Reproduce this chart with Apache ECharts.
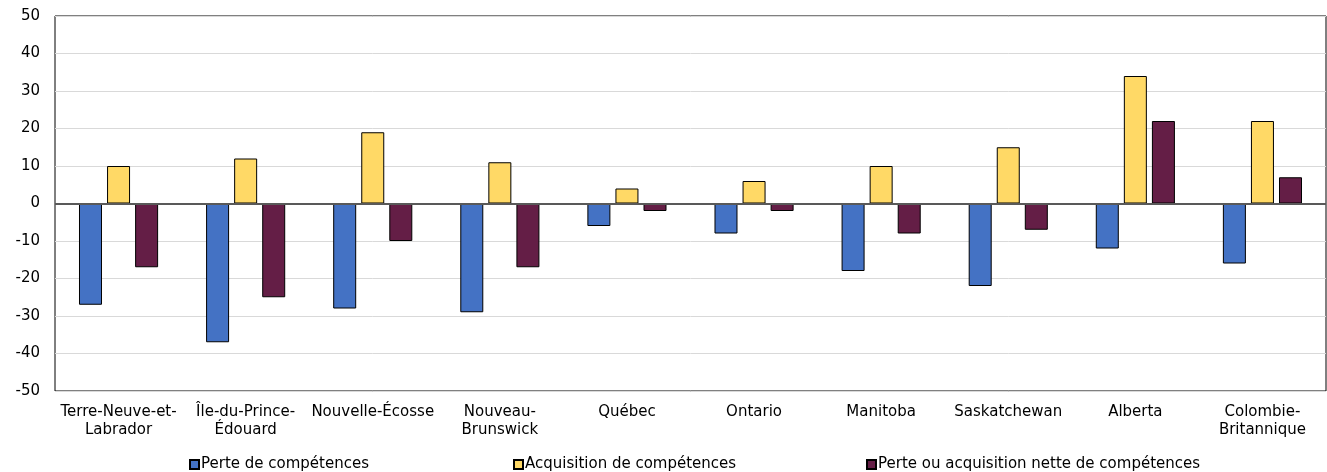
<!DOCTYPE html>
<html>
<head>
<meta charset="utf-8">
<script src="https://cdn.jsdelivr.net/npm/echarts@6/dist/echarts.min.js"></script>
<style>
  html, body { margin: 0; padding: 0; background: #fff; }
  #chart { width: 1327px; height: 472px; }
</style>
</head>
<body>
<div id="chart"></div>
<script>
// provinces
const provinces = [
  'Terre-Neuve-et-\nLabrador', 'Île-du-Prince-\nÉdouard', 'Nouvelle-Écosse', 'Nouveau-\nBrunswick',
  'Québec', 'Ontario', 'Manitoba', 'Saskatchewan', 'Alberta', 'Colombie-\nBritannique'
]
const perte = [-27, -37, -28, -29, -6, -8, -18, -22, -12, -16]
const acquisition = [10, 12, 19, 11, 4, 6, 10, 15, 34, 22]
const nette = [-17, -25, -10, -17, -2, -2, -8, -7, 22, 7]
const seriesNames = ['Perte de compétences', 'Acquisition de compétences', 'Perte ou acquisition nette de compétences']
const colors = ['#4472c4', '#ffd966', '#641e46']
const font = "'DejaVu Sans', Verdana, sans-serif"

const myChart = echarts.init(document.querySelector('#chart'))

const legendLeft = [189, 513, 866]
const legends = seriesNames.map((n, i) => ({
  data: [n],
  left: legendLeft[i],
  top: 457,
  icon: 'rect',
  itemWidth: 9,
  itemHeight: 9,
  itemGap: 0,
  padding: 0,
  textStyle: { fontFamily: font, fontSize: 15, color: '#000', padding: [0, 0, 0, -3] }
}))

const option = {
  animation: false,
  color: colors,
  legend: legends,
  grid: {
    left: 55, right: 1, top: 16, bottom: 81,
    show: true, borderColor: '#000', borderWidth: 1
  },
  xAxis: {
    type: 'category',
    data: provinces,
    axisLine: { show: false },
    axisTick: { show: false },
    axisLabel: {
      interval: 0,
      margin: 12,
      fontFamily: font,
      fontSize: 15,
      color: '#000',
      lineHeight: 18
    }
  },
  yAxis: {
    type: 'value',
    min: -50,
    max: 50,
    interval: 10,
    axisLine: { show: false },
    axisTick: { show: false },
    axisLabel: {
      fontFamily: font,
      fontSize: 15,
      color: '#000',
      margin: 15
    },
    splitLine: { lineStyle: { color: '#d9d9d9', width: 1 } }
  },
  series: [perte, acquisition, nette].map((d, i) => ({
    name: seriesNames[i],
    type: 'bar',
    data: d,
    barWidth: 23,
    barGap: '22%',
    itemStyle: { color: colors[i], borderColor: '#000', borderWidth: 1 },
    markLine: i === 0 ? {
      symbol: 'none',
      silent: true,
      label: { show: false },
      lineStyle: { color: '#595959', type: 'solid', width: 2 },
      data: [{ yAxis: 0 }]
    } : undefined
  }))
}
myChart.setOption(option)
</script>
</body>
</html>
